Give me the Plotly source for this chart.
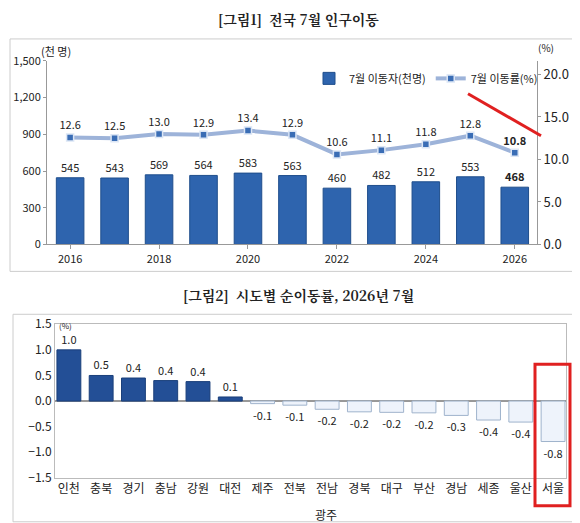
import plotly.graph_objects as go

years = [2016,2017,2018,2019,2020,2021,2022,2023,2024,2025,2026]
movers = [545,543,569,564,583,563,460,482,512,553,468]
rate = [12.6,12.5,13.0,12.9,13.4,12.9,10.6,11.1,11.8,12.8,10.8]
regions = ["인천","충북","경기","충남","강원","대전","제주","전북","전남","경북","대구","부산","경남","세종","울산","서울"]
net = [1.0,0.5,0.45,0.4,0.38,0.08,-0.05,-0.08,-0.16,-0.21,-0.22,-0.23,-0.28,-0.37,-0.41,-0.79]
net_lbl = ["1.0","0.5","0.4","0.4","0.4","0.1","-0.1","-0.1","-0.2","-0.2","-0.2","-0.2","-0.3","-0.4","-0.4","-0.8"]

W, H = 580, 523
def py(p):
    t = (p - 16) / 0.966
    return 1 - t / H
def px(p): return (p - 7) / W

F = "Noto Sans CJK KR"
fig = go.Figure()
txt_m = [("<b>%d</b>" % v if i == len(movers)-1 else str(v)) for i, v in enumerate(movers)]
txt_r = [("<b>%.1f</b>" % v if i == len(rate)-1 else "%.1f" % v) for i, v in enumerate(rate)]
fig.add_trace(go.Bar(x=years, y=movers, name="7월 이동자(천명)", width=0.62,
    marker=dict(color="#2E64AE", line=dict(color="#1F4E8C", width=1)),
    text=txt_m, textposition="outside", textfont=dict(size=11, color="#222"), cliponaxis=False,
    xaxis="x", yaxis="y"))
fig.add_trace(go.Scatter(x=years, y=rate, name="7월 이동률(%)", mode="lines+markers+text",
    line=dict(color="#9DB3D9", width=4), marker=dict(symbol="square", size=7, color="#3A6DB5", line=dict(color="#DCE6F5", width=1.5)),
    text=txt_r, textposition="top center", textfont=dict(size=11, color="#222"),
    xaxis="x", yaxis="y2"))
fig.add_trace(go.Bar(x=regions, y=net, showlegend=False, width=0.74,
    marker=dict(color=["#234F96" if v > 0 else "#EEF3FB" for v in net], line=dict(color=["#1A3F7A" if v > 0 else "#9FB3CC" for v in net], width=1)),
    text=net_lbl, textposition="outside", textfont=dict(size=11, color="#222"), cliponaxis=False,
    xaxis="x3", yaxis="y3"))

def A(text, x, y, size, **kw):
    d = dict(text=text, x=px(x), y=py(y), xref="paper", yref="paper", showarrow=False,
             xanchor="center", yanchor="middle", font=dict(size=size))
    d["font"].update(kw.pop("font", {}))
    d.update(kw)
    return d

SERIF = "Noto Serif CJK KR, " + F
fig.update_layout(
    width=W, height=H, margin=dict(l=0, r=0, t=0, b=0), paper_bgcolor="white", plot_bgcolor="white",
    font=dict(family=F, size=11, color="#222"), bargap=0.3,
    xaxis=dict(domain=[px(46), px(536)], range=[2015.48, 2026.5], tickvals=[2016,2018,2020,2022,2024,2026],
               showline=True, linecolor="#999", ticks="outside", ticklen=4, tickcolor="#999", anchor="y"),
    yaxis=dict(domain=[py(243), py(59)], range=[0, 1500], tickvals=[0,300,600,900,1200,1500],
               ticktext=["0","300","600","900","1,200","1,500"], showline=True, linecolor="#999",
               showgrid=False, ticks="outside", ticklen=3, tickcolor="#999", zeroline=False),
    yaxis2=dict(overlaying="y", side="right", range=[0, 21.6], tickvals=[0,5,10,15,20], tickformat=".1f",
                showline=True, linecolor="#999", showgrid=False, ticks="outside", ticklen=3, tickcolor="#999",
                tickfont=dict(size=13), anchor="x"),
    xaxis3=dict(domain=[px(54), px(565)], range=[-0.43, 15.4], anchor="y3", showline=True, linecolor="#bbb", mirror=True, tickfont=dict(size=12)),
    yaxis3=dict(domain=[py(477), py(323)], range=[-1.5, 1.5], dtick=0.5, tickformat=".1f", showline=True,
                linecolor="#bbb", mirror=True, showgrid=False, zeroline=True, zerolinecolor="#999",
                tickfont=dict(size=12), anchor="x3"),
    legend=dict(x=px(308), y=py(62), xanchor="left", yanchor="top", orientation="h", font=dict(size=11),
                bgcolor="rgba(0,0,0,0)"),
    annotations=[
        A("<b>[그림1]  전국 7월 인구이동</b>", 297, 17, 14, font=dict(family=SERIF)),
        A("<b>[그림2]  시도별 순이동률, 2026년 7월</b>", 297, 294, 14, font=dict(family=SERIF)),
        A("(천 명)", 55, 49, 11),
        A("(%)", 545, 46, 10),
        A("(%)", 64, 324, 8),
        A("광주", 325, 514, 12),
    ],
    shapes=[
        dict(type="rect", xref="paper", yref="paper", x0=px(9), x1=px(586), y0=py(270), y1=py(37), line=dict(color="#ccc", width=1)),
        dict(type="rect", xref="paper", yref="paper", x0=px(12), x1=px(585), y0=py(521), y1=py(313), line=dict(color="#ccc", width=1)),
        dict(type="line", xref="paper", yref="paper", x0=px(467), y0=py(92), x1=px(540), y1=py(134), line=dict(color="#E02020", width=3)),
        dict(type="rect", xref="paper", yref="paper", x0=px(534), x1=px(569), y0=py(505), y1=py(363), line=dict(color="#E02020", width=3)),
    ],
)
fig.write_html("out.html")
